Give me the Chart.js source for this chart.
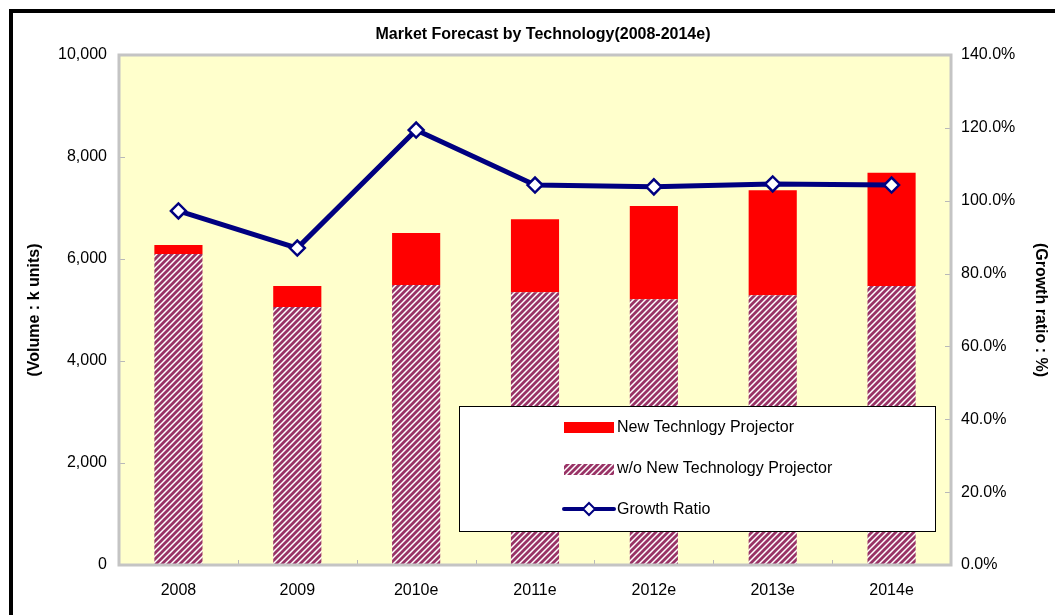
<!DOCTYPE html>
<html>
<head>
<meta charset="utf-8">
<script src="https://cdn.jsdelivr.net/npm/chart.js@4.4.0/dist/chart.umd.min.js"></script>
<style>
  html, body { margin: 0; padding: 0; background: #fff; }
  #wrap { position: relative; width: 1055px; height: 615px; }
</style>
</head>
<body>
<div id="wrap"><canvas id="c" width="1055" height="615"></canvas></div>
<script>
/* data */
var categories = ["2008", "2009", "2010e", "2011e", "2012e", "2013e", "2014e"];
var withoutNewTech = [6100, 5060, 5490, 5350, 5210, 5290, 5470];
var newTech = [175, 410, 1020, 1430, 1830, 2060, 2220];
var growthRatio = [97.2, 87.0, 119.4, 104.3, 103.8, 104.6, 104.3];
var volumeTicks = [0, 2000, 4000, 6000, 8000, 10000];
var growthTicks = [0, 20, 40, 60, 80, 100, 120, 140];

var FONT = "'Liberation Sans', Arial, sans-serif";
var NAVY = "#000080";
var PURPLE = "#993366";

/* diagonal hatch like the excel "wide upward diagonal" fill */
function makeHatch() {
  var p = 6;
  var c = document.createElement("canvas");
  c.width = p; c.height = p;
  var g = c.getContext("2d");
  g.fillStyle = "#ffffff";
  g.fillRect(0, 0, p, p);
  g.strokeStyle = PURPLE;
  g.lineWidth = 2.8;
  g.beginPath();
  g.moveTo(-1, p + 1); g.lineTo(p + 1, -1);
  g.moveTo(-1, 1); g.lineTo(1, -1);
  g.moveTo(p - 1, p + 1); g.lineTo(p + 1, p - 1);
  g.stroke();
  return document.createElement("canvas").getContext("2d").createPattern(c, "repeat");
}
var hatch = makeHatch();

var framePlugin = {
  id: "frame",
  beforeDraw: function (chart) {
    var ctx = chart.ctx, a = chart.chartArea;
    ctx.save();
    ctx.fillStyle = "#ffffff";
    ctx.fillRect(0, 0, chart.width, chart.height);
    ctx.fillStyle = "#FFFFCC";
    ctx.fillRect(a.left, a.top, a.right - a.left, a.bottom - a.top);
    ctx.restore();
  },
  beforeDatasetsDraw: function (chart) {
    var ctx = chart.ctx, a = chart.chartArea;
    var y = chart.scales.y, y1 = chart.scales.y1, x = chart.scales.x;
    ctx.save();
    ctx.strokeStyle = "#b8b8b8";
    ctx.lineWidth = 1;
    ctx.beginPath();
    volumeTicks.forEach(function (v) {
      var py = Math.round(y.getPixelForValue(v)) + 0.5;
      ctx.moveTo(a.left, py); ctx.lineTo(a.left + 6, py);
    });
    growthTicks.forEach(function (v) {
      var py = Math.round(y1.getPixelForValue(v)) + 0.5;
      ctx.moveTo(a.right - 6, py); ctx.lineTo(a.right, py);
    });
    for (var i = 1; i < categories.length; i++) {
      var px = Math.round((x.getPixelForValue(i - 1) + x.getPixelForValue(i)) / 2) + 0.5;
      ctx.moveTo(px, a.bottom); ctx.lineTo(px, a.bottom - 5);
    }
    ctx.stroke();
    ctx.restore();
  },
  afterDraw: function (chart) {
    var ctx = chart.ctx, a = chart.chartArea;
    ctx.save();
    /* plot border */
    ctx.strokeStyle = "#c4c4c4";
    ctx.lineWidth = 3;
    ctx.strokeRect(a.left, a.top, a.right - a.left, a.bottom - a.top);
    /* outer black frame (cut at right / bottom) */
    ctx.fillStyle = "#000";
    ctx.fillRect(9, 9, chart.width - 9, 4);
    ctx.fillRect(9, 9, 4, chart.height - 9);
    /* title */
    ctx.fillStyle = "#000";
    ctx.font = "bold 16px " + FONT;
    ctx.textAlign = "center";
    ctx.textBaseline = "middle";
    ctx.fillText("Market Forecast by Technology(2008-2014e)", 543, 35);

    /* legend box */
    var lx = 459, ly = 406, lw = 476, lh = 125;
    ctx.fillStyle = "#fff";
    ctx.fillRect(lx, ly, lw, lh);
    ctx.strokeStyle = "#000";
    ctx.lineWidth = 1;
    ctx.strokeRect(lx + 0.5, ly + 0.5, lw, lh);

    var ds = chart.data.datasets;
    ctx.font = "16px " + FONT;
    ctx.textAlign = "left";
    /* new tech */
    ctx.fillStyle = ds[1].backgroundColor;
    ctx.fillRect(564, 422, 50, 11);
    ctx.fillStyle = "#000";
    ctx.fillText(ds[1].label, 617, 428);
    /* without new tech */
    ctx.fillStyle = ds[0].backgroundColor;
    ctx.fillRect(564, 464, 50, 11);
    ctx.fillStyle = "#000";
    ctx.fillText(ds[0].label, 617, 469);
    /* growth ratio */
    ctx.strokeStyle = NAVY;
    ctx.lineWidth = 4;
    ctx.lineCap = "round";
    ctx.beginPath();
    ctx.moveTo(564, 509); ctx.lineTo(614, 509);
    ctx.stroke();
    ctx.beginPath();
    ctx.moveTo(589, 503); ctx.lineTo(595, 509); ctx.lineTo(589, 515); ctx.lineTo(583, 509); ctx.closePath();
    ctx.fillStyle = "#fff";
    ctx.fill();
    ctx.lineWidth = 2;
    ctx.stroke();
    ctx.fillStyle = "#000";
    ctx.fillText(ds[2].label, 617, 510);
    ctx.restore();
  }
};

new Chart(document.getElementById("c"), {
  data: {
    labels: categories,
    datasets: [
      {
        type: "bar",
        label: "w/o New Technology Projector",
        data: withoutNewTech,
        backgroundColor: hatch,
        yAxisID: "y",
        stack: "vol",
        order: 1,
        categoryPercentage: 1,
        barPercentage: 0.405
      },
      {
        type: "bar",
        label: "New Technlogy Projector",
        data: newTech,
        backgroundColor: "#FF0000",
        yAxisID: "y",
        stack: "vol",
        order: 1,
        categoryPercentage: 1,
        barPercentage: 0.405
      },
      {
        type: "line",
        label: "Growth Ratio",
        data: growthRatio,
        yAxisID: "y1",
        borderColor: NAVY,
        borderWidth: 5,
        pointStyle: "rectRot",
        pointRadius: 7.5,
        pointBorderWidth: 2.5,
        pointBackgroundColor: "#ffffff",
        pointBorderColor: NAVY,
        tension: 0,
        order: 0
      }
    ]
  },
  options: {
    responsive: false,
    animation: false,
    devicePixelRatio: 1,
    layout: { padding: { top: 55, left: 0, right: 0, bottom: 0 } },
    plugins: {
      legend: { display: false },
      title: { display: false },
      tooltip: { enabled: false }
    },
    scales: {
      x: {
        stacked: true,
        grid: { display: false },
        border: { display: false },
        ticks: { color: "#000", font: { family: FONT, size: 16 }, padding: 8 },
        afterFit: function (s) { s.height = 50; }
      },
      y: {
        position: "left",
        stacked: true,
        min: 0, max: 10000,
        grid: { display: false },
        border: { display: false },
        ticks: {
          stepSize: 2000,
          color: "#000",
          font: { family: FONT, size: 16 },
          padding: 4,
          callback: function (v) { return v.toLocaleString("en-US"); }
        },
        title: {
          display: true,
          text: "(Volume : k units)",
          color: "#000",
          font: { family: FONT, size: 16, weight: "bold" },
          padding: { top: 25, bottom: 0 }
        },
        afterFit: function (s) { s.width = 119; }
      },
      y1: {
        position: "right",
        min: 0, max: 140,
        grid: { display: false },
        border: { display: false },
        ticks: {
          stepSize: 20,
          color: "#000",
          font: { family: FONT, size: 16 },
          padding: 2,
          callback: function (v) { return v.toFixed(1) + "%"; }
        },
        title: {
          display: true,
          text: "(Growth ratio : %)",
          color: "#000",
          font: { family: FONT, size: 16, weight: "bold" },
          padding: { top: 5, bottom: 0 }
        },
        afterFit: function (s) { s.width = 104; }
      }
    }
  },
  plugins: [framePlugin]
});
</script>
</body>
</html>
